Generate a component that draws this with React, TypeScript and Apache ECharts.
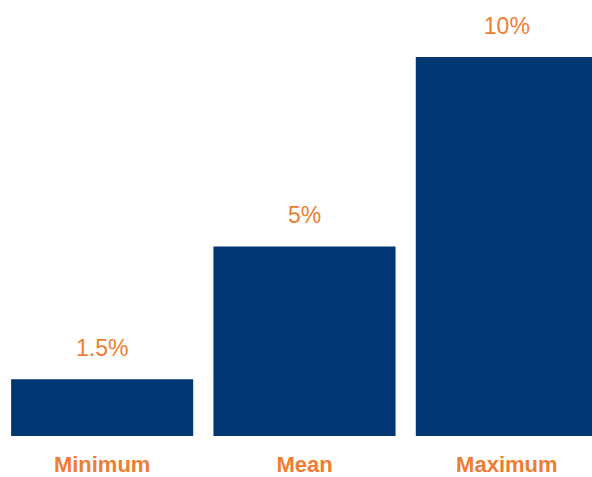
import React, { useEffect, useRef } from "react";
import * as echarts from "echarts";

const categories = ["Minimum", "Mean", "Maximum"];
const values = [1.5, 5, 10];
const valueLabels = ["1.5%", "5%", "10%"];

const NAVY = "#003773";
const ORANGE = "#EF7D31";

export default function App() {
  const ref = useRef<HTMLDivElement>(null);
  useEffect(() => {
    document.body.style.margin = "0";
    const chart = echarts.init(ref.current!, null, { renderer: "svg" });
    chart.setOption({
      animation: false,
      grid: {
        left: 1,
        top: 57,
        right: -16,
        bottom: 41,
        containLabel: false,
        outerBoundsMode: "none",
      },
      xAxis: {
        type: "category",
        data: categories,
        axisLine: { show: false },
        axisTick: { show: false },
        axisLabel: {
          color: ORANGE,
          fontSize: 22,
          lineHeight: 22,
          fontWeight: "bold",
          fontFamily: "Liberation Sans, Arial, sans-serif",
          margin: 17,
        },
      },
      yAxis: {
        type: "value",
        min: 0,
        max: 10,
        show: false,
        splitLine: { show: false },
      },
      series: [
        {
          type: "bar",
          data: values,
          barCategoryGap: "10%",
          itemStyle: { color: NAVY },
          label: {
            show: true,
            position: "top",
            distance: 20,
            color: ORANGE,
            fontSize: 23,
            fontFamily: "Liberation Sans, Arial, sans-serif",
            formatter: (p: any) => valueLabels[p.dataIndex],
          },
        },
      ],
    });
    return () => chart.dispose();
  }, []);
  return <div ref={ref} style={{ width: 592, height: 477 }} />;
}
